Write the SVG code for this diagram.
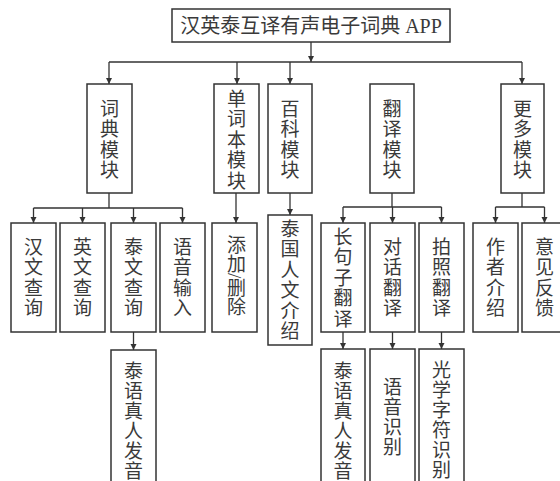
<svg xmlns="http://www.w3.org/2000/svg" width="560" height="481" viewBox="0 0 560 481">
<defs>
<marker id="ah" markerUnits="userSpaceOnUse" markerWidth="7" markerHeight="7" refX="6" refY="3" orient="auto">
<path d="M0,0 L6,3 L0,6 z" fill="#333"/>
</marker>
<style>
.box{fill:#fff;stroke:#333;stroke-width:1.5}
.t{font-family:"Liberation Serif","Noto Sans CJK SC",serif;font-size:19px;fill:#3a3a3a;text-anchor:middle;dominant-baseline:central}
.title{font-size:20px}
.vt{font-family:"Liberation Serif","Noto Sans CJK SC",serif;font-size:19px;fill:#3a3a3a;writing-mode:vertical-rl;text-anchor:start}
.ln{fill:none;stroke:#333;stroke-width:1.3}
.ar{fill:none;stroke:#333;stroke-width:1.3;marker-end:url(#ah)}
</style>
</defs>
<rect width="560" height="481" fill="#fff"/>
<g id="connectors">
<path class="ar" d="M311,42 V62"/>
<path class="ln" d="M109,62 H522"/>
<path class="ar" d="M109,62 V84"/>
<path class="ar" d="M237,62 V84"/>
<path class="ar" d="M290,62 V84"/>
<path class="ar" d="M522,62 V84"/>
<path class="ln" d="M109,193 V208 M33.5,208 H182.5"/>
<path class="ar" d="M33.5,208 V223"/>
<path class="ar" d="M82.5,208 V223"/>
<path class="ar" d="M133.5,208 V223"/>
<path class="ar" d="M182.5,208 V223"/>
<path class="ar" d="M236,193 V223"/>
<path class="ar" d="M290,193 V215"/>
<path class="ln" d="M392,193 V207 M343,207 H441.5"/>
<path class="ar" d="M343,207 V223"/>
<path class="ar" d="M392.5,207 V223"/>
<path class="ar" d="M441.5,207 V223"/>
<path class="ln" d="M522,193 V207 M495.5,207 H544.5"/>
<path class="ar" d="M495.5,207 V223"/>
<path class="ar" d="M544.5,207 V223"/>
<path class="ar" d="M133.5,332 V350"/>
<path class="ar" d="M343,332 V349"/>
<path class="ar" d="M392.5,332 V349"/>
<path class="ar" d="M441.5,332 V349"/>
</g>
<g id="n-root">
<rect class="box" x="172" y="9" width="278" height="33"/>
<text class="t title" x="311" y="26">汉英泰互译有声电子词典 APP</text>
</g>
<g id="n-dict">
<rect class="box" x="87" y="84" width="45" height="109"/>
<text class="t"><tspan x="109.5" y="108.75">词</tspan><tspan x="109.5" y="129.25">典</tspan><tspan x="109.5" y="149.75">模</tspan><tspan x="109.5" y="170.25">块</tspan></text>
</g>
<g id="n-wordbook">
<rect class="box" x="214" y="84" width="45" height="109"/>
<text class="t"><tspan x="236.5" y="98.5">单</tspan><tspan x="236.5" y="119">词</tspan><tspan x="236.5" y="139.5">本</tspan><tspan x="236.5" y="160">模</tspan><tspan x="236.5" y="180.5">块</tspan></text>
</g>
<g id="n-baike">
<rect class="box" x="268" y="84" width="44" height="109"/>
<text class="t"><tspan x="290" y="108.75">百</tspan><tspan x="290" y="129.25">科</tspan><tspan x="290" y="149.75">模</tspan><tspan x="290" y="170.25">块</tspan></text>
</g>
<g id="n-trans">
<rect class="box" x="370" y="84" width="44" height="109"/>
<text class="t"><tspan x="392" y="108.75">翻</tspan><tspan x="392" y="129.25">译</tspan><tspan x="392" y="149.75">模</tspan><tspan x="392" y="170.25">块</tspan></text>
</g>
<g id="n-more">
<rect class="box" x="501" y="84" width="43" height="109"/>
<text class="t"><tspan x="522.5" y="108.75">更</tspan><tspan x="522.5" y="129.25">多</tspan><tspan x="522.5" y="149.75">模</tspan><tspan x="522.5" y="170.25">块</tspan></text>
</g>
<g id="n-zh">
<rect class="box" x="11" y="223" width="45" height="109"/>
<text class="t"><tspan x="33.5" y="246.75">汉</tspan><tspan x="33.5" y="267.25">文</tspan><tspan x="33.5" y="287.75">查</tspan><tspan x="33.5" y="308.25">询</tspan></text>
</g>
<g id="n-en">
<rect class="box" x="60" y="223" width="45" height="109"/>
<text class="t"><tspan x="82.5" y="246.75">英</tspan><tspan x="82.5" y="267.25">文</tspan><tspan x="82.5" y="287.75">查</tspan><tspan x="82.5" y="308.25">询</tspan></text>
</g>
<g id="n-th">
<rect class="box" x="111" y="223" width="45" height="109"/>
<text class="t"><tspan x="133.5" y="246.75">泰</tspan><tspan x="133.5" y="267.25">文</tspan><tspan x="133.5" y="287.75">查</tspan><tspan x="133.5" y="308.25">询</tspan></text>
</g>
<g id="n-voice">
<rect class="box" x="160" y="223" width="45" height="109"/>
<text class="t"><tspan x="182.5" y="246.75">语</tspan><tspan x="182.5" y="267.25">音</tspan><tspan x="182.5" y="287.75">输</tspan><tspan x="182.5" y="308.25">入</tspan></text>
</g>
<g id="n-adddel">
<rect class="box" x="212" y="223" width="45" height="109"/>
<text class="vt" x="234.5" y="235">添加/删除</text>
</g>
<g id="n-culture">
<rect class="box" x="268" y="215" width="44" height="130"/>
<text class="t"><tspan x="290" y="228.75">泰</tspan><tspan x="290" y="249.25">国</tspan><tspan x="290" y="269.75">人</tspan><tspan x="290" y="290.25">文</tspan><tspan x="290" y="310.75">介</tspan><tspan x="290" y="331.25">绍</tspan></text>
</g>
<g id="n-long">
<rect class="box" x="321" y="223" width="44" height="109"/>
<text class="t"><tspan x="343" y="236.5">长</tspan><tspan x="343" y="257">句</tspan><tspan x="343" y="277.5">子</tspan><tspan x="343" y="298">翻</tspan><tspan x="343" y="318.5">译</tspan></text>
</g>
<g id="n-dialog">
<rect class="box" x="370" y="223" width="45" height="109"/>
<text class="t"><tspan x="392.5" y="246.75">对</tspan><tspan x="392.5" y="267.25">话</tspan><tspan x="392.5" y="287.75">翻</tspan><tspan x="392.5" y="308.25">译</tspan></text>
</g>
<g id="n-photo">
<rect class="box" x="419" y="223" width="45" height="109"/>
<text class="t"><tspan x="441.5" y="246.75">拍</tspan><tspan x="441.5" y="267.25">照</tspan><tspan x="441.5" y="287.75">翻</tspan><tspan x="441.5" y="308.25">译</tspan></text>
</g>
<g id="n-author">
<rect class="box" x="473" y="223" width="45" height="109"/>
<text class="t"><tspan x="495.5" y="246.75">作</tspan><tspan x="495.5" y="267.25">者</tspan><tspan x="495.5" y="287.75">介</tspan><tspan x="495.5" y="308.25">绍</tspan></text>
</g>
<g id="n-feedback">
<rect class="box" x="522" y="223" width="45" height="109"/>
<text class="t"><tspan x="544.5" y="246.75">意</tspan><tspan x="544.5" y="267.25">见</tspan><tspan x="544.5" y="287.75">反</tspan><tspan x="544.5" y="308.25">馈</tspan></text>
</g>
<g id="n-thvoice1">
<rect class="box" x="111" y="350" width="45" height="150"/>
<text class="t"><tspan x="133.5" y="371">泰</tspan><tspan x="133.5" y="391">语</tspan><tspan x="133.5" y="411">真</tspan><tspan x="133.5" y="431">人</tspan><tspan x="133.5" y="451">发</tspan><tspan x="133.5" y="471">音</tspan></text>
</g>
<g id="n-thvoice2">
<rect class="box" x="321" y="349" width="44" height="150"/>
<text class="t"><tspan x="343" y="371">泰</tspan><tspan x="343" y="391">语</tspan><tspan x="343" y="411">真</tspan><tspan x="343" y="431">人</tspan><tspan x="343" y="451">发</tspan><tspan x="343" y="471">音</tspan></text>
</g>
<g id="n-asr">
<rect class="box" x="370" y="349" width="45" height="150"/>
<text class="t"><tspan x="392.5" y="387">语</tspan><tspan x="392.5" y="407">音</tspan><tspan x="392.5" y="427">识</tspan><tspan x="392.5" y="447">别</tspan></text>
</g>
<g id="n-ocr">
<rect class="box" x="419" y="349" width="45" height="150"/>
<text class="t"><tspan x="441.5" y="370">光</tspan><tspan x="441.5" y="390">学</tspan><tspan x="441.5" y="410">字</tspan><tspan x="441.5" y="430">符</tspan><tspan x="441.5" y="450">识</tspan><tspan x="441.5" y="470">别</tspan></text>
</g>
</svg>
